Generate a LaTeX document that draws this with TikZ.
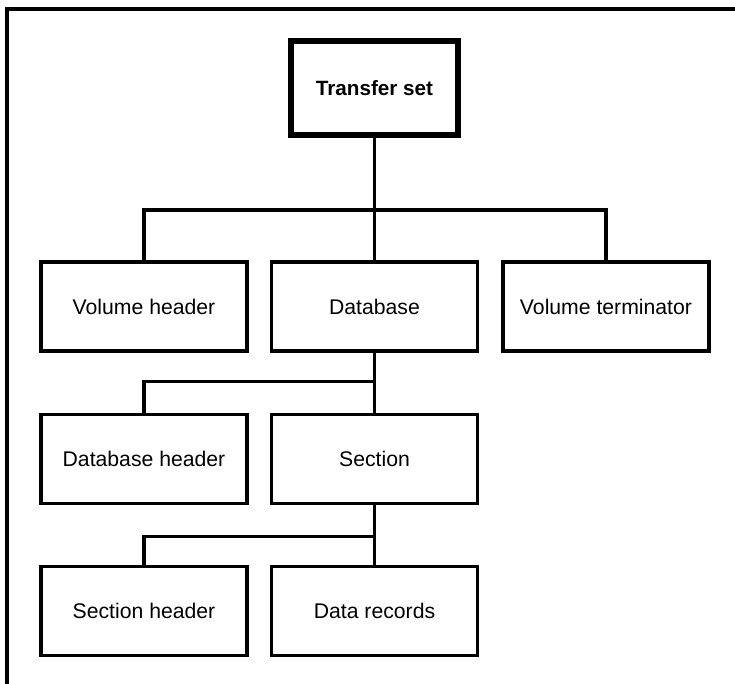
\documentclass[tikz,border=0pt]{standalone}
\usepackage{fontspec}
\setmainfont{Liberation Sans}
\begin{document}
\begin{tikzpicture}[x=0.75pt,y=-0.75pt,
  box/.style={draw=black,line width=2.6pt,minimum width=154.5pt,minimum height=67pt,inner sep=0pt,
    font=\fontsize{15.9}{18}\selectfont},
  topbox/.style={draw=black,line width=3.8pt,minimum width=125.25pt,minimum height=70.5pt,inner sep=0pt,
    font=\fontsize{15.5}{18}\selectfont\bfseries},
  link/.style={draw=black,line width=2.3pt},
  frame/.style={draw=black,line width=2.3pt}]
\useasboundingbox (0,0) rectangle (735,684);
\draw[frame] (7,684) -- (7,9) -- (735,9);
\node[topbox] (ts) at (374.5,88) {Transfer set};
\node[box] (vh) at (144,306.5) {Volume header};
\node[box] (db) at (374.5,306.5) {Database};
\node[box] (vt) at (606,306.5) {Volume terminator};
\node[box] (dbh) at (144,459) {Database header};
\node[box] (sec) at (374.5,459) {Section};
\node[box] (sh) at (144,611) {Section header};
\node[box] (dr) at (374.5,611) {Data records};
\coordinate (b1) at (374.5,210);
\coordinate (b2) at (374.5,381.5);
\coordinate (b3) at (374.5,536.5);
\draw[link] (ts.south) -- (db.north);
\draw[link] (vh.north) |- (b1) -| (vt.north);
\draw[link] (db.south) -- (sec.north);
\draw[link] (dbh.north) |- (b2);
\draw[link] (sec.south) -- (dr.north);
\draw[link] (sh.north) |- (b3);
\end{tikzpicture}
\end{document}
